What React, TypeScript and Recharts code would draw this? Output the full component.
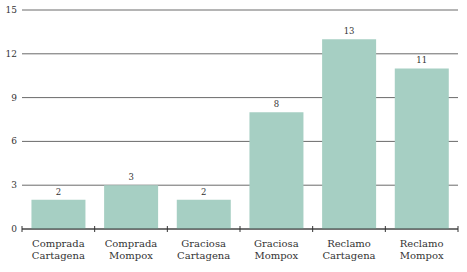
import React from "react";
import { BarChart, Bar, XAxis, YAxis, CartesianGrid, LabelList } from "recharts";

const categories = [
  "Comprada Cartagena",
  "Comprada Mompox",
  "Graciosa Cartagena",
  "Graciosa Mompox",
  "Reclamo Cartagena",
  "Reclamo Mompox",
];
const values = [2, 3, 2, 8, 13, 11];
const yTicks = [0, 3, 6, 9, 12, 15];

const data = categories.map((c, i) => ({ name: c, value: values[i] }));

const W = 467;
const H = 272;
const M = { top: 10, right: 9, left: 0, bottom: 13 };
const Y_W = 22;
const FONT = "'DejaVu Serif', serif";

const CatTick = (props: any) => {
  const { x, y, payload, index } = props;
  const step = (W - M.left - M.right - Y_W) / categories.length;
  const parts = String(payload.value).split(" ");
  const axisY = y - 8;
  return (
    <g>
      <line x1={x - step / 2} x2={x - step / 2} y1={axisY - 3} y2={axisY + 3} stroke="#333" />
      {index === categories.length - 1 && (
        <line x1={x + step / 2} x2={x + step / 2} y1={axisY - 3} y2={axisY + 3} stroke="#333" />
      )}
      <text x={x} y={y + 10} textAnchor="middle" fontFamily={FONT} fontSize={10} fill="#333">
        <tspan x={x} dy={0}>{parts[0]}</tspan>
        <tspan x={x} dy={11.5}>{parts.slice(1).join(" ")}</tspan>
      </text>
    </g>
  );
};

const ValTick = (props: any) => {
  const { y, payload } = props;
  return (
    <text x={17} y={y} dy={3} textAnchor="end" fontFamily={FONT} fontSize={9} fill="#333">
      {String(payload.value)}
    </text>
  );
};

export default function App() {
  return (
    <div style={{ position: "absolute", left: 0, top: 0, width: W, height: H }}>
      <BarChart width={W} height={H} data={data} margin={M} barCategoryGap="13%" style={{ overflow: "visible" }}>
        <CartesianGrid vertical={false} stroke="#6a6a6a" strokeWidth={1} />
        <XAxis
          dataKey="name"
          interval={0}
          height={30}
          tickLine={false}
          axisLine={{ stroke: "#333" }}
          tick={<CatTick />}
        />
        <YAxis
          width={Y_W}
          domain={[0, 15]}
          ticks={yTicks}
          axisLine={false}
          tickLine={false}
          tick={<ValTick />}
        />
        <Bar dataKey="value" fill="#a6cfc3" isAnimationActive={false}>
          <LabelList
            dataKey="value"
            position="top"
            offset={5}
            style={{ fontFamily: FONT, fontSize: 8.5, fill: "#333" }}
          />
        </Bar>
      </BarChart>
    </div>
  );
}
